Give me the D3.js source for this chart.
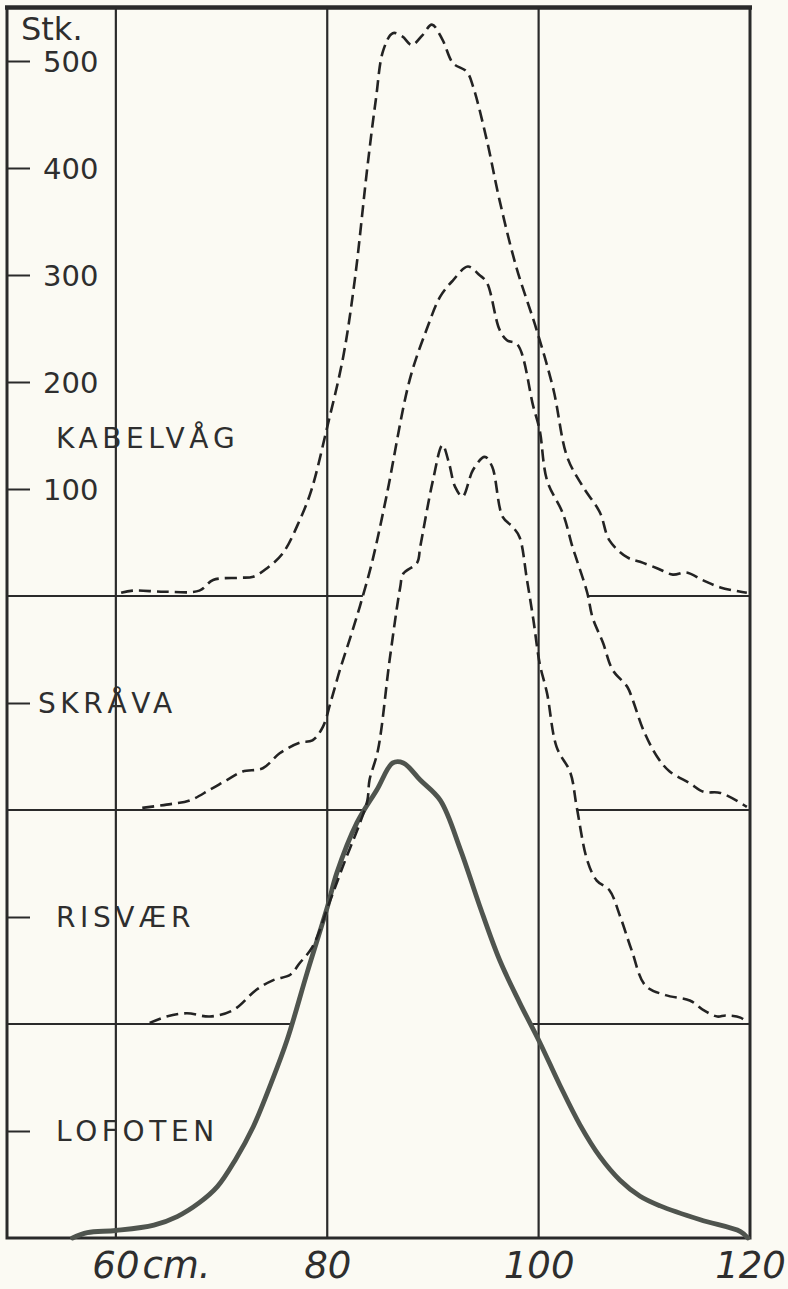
<!DOCTYPE html>
<html>
<head>
<meta charset="utf-8">
<script src="https://cdn.jsdelivr.net/npm/d3@7/dist/d3.min.js"></script>
<style>
  body { margin: 0; background: #fbfaf3; }
  svg { display: block; }
  text { font-family: "DejaVu Sans", sans-serif; fill: #2e2e2e; }
</style>
</head>
<body>
<svg id="chart" width="788" height="1289"></svg>
<script>
// lengths (cm) and counts (Stk.)
const kabelvagLen = [60.5, 61.6, 64.6, 67.9, 69.2, 71.7, 73.0, 74.3, 75.8, 77.4, 78.5, 80.0, 81.5, 82.6, 83.8, 84.6, 85.3, 86.2, 87.1, 88.0, 89.0, 89.9, 90.9, 91.9, 93.2, 93.8, 95.1, 96.3, 97.9, 99.8, 101.4, 102.7, 104.2, 105.8, 106.7, 108.4, 109.6, 111.2, 112.7, 114.0, 115.5, 117.2, 119.7];
const kabelvagN   = [3, 5, 4, 5, 15, 17, 18, 26, 40, 71, 99, 158, 223, 295, 401, 464, 510, 526, 523, 515, 524, 534, 520, 498, 490, 476, 426, 370, 307, 249, 193, 130, 102, 78, 52, 36, 32, 26, 20, 22, 15, 8, 3];

const skravaLen = [62.5, 64.8, 67.0, 68.9, 70.5, 72.0, 73.9, 75.5, 77.4, 78.6, 79.6, 80.3, 81.2, 82.4, 83.4, 84.3, 85.6, 87.8, 89.4, 90.7, 91.9, 93.3, 94.4, 95.1, 96.3, 97.0, 98.0, 99.5, 100.1, 100.8, 102.3, 103.2, 103.6, 104.6, 105.1, 106.1, 107.0, 108.4, 108.9, 109.9, 111.2, 112.4, 114.3, 115.6, 117.2, 119.7];
const skravaN   = [2, 5, 9, 19, 28, 36, 39, 53, 63, 65, 78, 100, 131, 168, 201, 234, 293, 402, 449, 480, 495, 508, 500, 493, 449, 439, 435, 377, 355, 308, 277, 246, 234, 203, 180, 156, 131, 115, 103, 75, 50, 36, 25, 17, 16, 3];

const risvaerLen = [63.2, 64.8, 66.7, 68.9, 71.1, 73.3, 74.9, 76.5, 77.4, 78.6, 80.3, 81.7, 83.1, 83.8, 84.0, 84.8, 85.9, 86.9, 87.2, 88.5, 88.8, 90.0, 90.9, 91.5, 92.1, 92.8, 93.8, 94.9, 95.6, 96.6, 97.6, 98.2, 98.9, 99.5, 100.1, 100.8, 101.7, 103.0, 103.6, 104.6, 105.5, 106.7, 107.7, 108.8, 110.1, 112.0, 114.3, 115.6, 116.9, 117.7, 119.1, 119.8];
const risvaerN   = [1, 7, 10, 7, 13, 32, 41, 46, 57, 72, 116, 153, 188, 209, 228, 256, 340, 408, 421, 431, 446, 508, 541, 525, 502, 493, 518, 530, 521, 474, 464, 455, 415, 378, 337, 309, 259, 235, 203, 153, 134, 125, 101, 69, 36, 27, 22, 13, 7, 8, 6, 1];

const lofotenLen = [55.9, 57.3, 60.0, 63.6, 65.8, 67.9, 69.6, 71.3, 73.0, 74.7, 76.2, 78.1, 80.0, 80.9, 82.8, 84.7, 86.2, 87.2, 88.8, 90.7, 92.6, 94.4, 96.3, 98.2, 100.1, 102.0, 103.9, 105.8, 107.7, 109.6, 111.5, 115.3, 119.1, 119.8];
const lofotenN   = [0, 5, 7, 12, 20, 33, 48, 73, 104, 145, 185, 248, 309, 341, 388, 419, 444, 444, 428, 409, 363, 311, 260, 220, 183, 143, 106, 76, 54, 39, 30, 17, 6, 0];

// bottom to top
const stationNames = ['LOFOTEN', 'RISVÆR', 'SKRÅVA', 'KABELVÅG'];
const countTicks = [100, 200, 300, 400, 500];
const lengthTicks = [60, 80, 100, 120];
const gridLengths = [60, 80, 100];

const step = 200;  // each station is lifted 200 Stk. above the one below

const series = [
  {name: stationNames[0], len: lofotenLen, n: lofotenN, solid: true},
  {name: stationNames[1], len: risvaerLen, n: risvaerN},
  {name: stationNames[2], len: skravaLen, n: skravaN},
  {name: stationNames[3], len: kabelvagLen, n: kabelvagN}
];
series.forEach((s, i) => {
  s.base = i * step;
  s.points = s.len.map((l, j) => ({len: l, n: s.n[j]}));
});

const svg = d3.select('#chart');

const x = d3.scaleLinear().domain([49.7, 120]).range([7, 750]);
const y = d3.scaleLinear().domain([0, 1150]).range([1238, 7.5]);

// where the station below climbs over a baseline, the baseline is left out
function openSpans(pts, level){
  let spans = [], start = x.domain()[0];
  for(let i = 1; i < pts.length; i++){
    let a = pts[i-1], b = pts[i];
    if((a.n < level) !== (b.n < level)){
      let c = a.len + (level - a.n) / (b.n - a.n) * (b.len - a.len);
      if(a.n < level){ spans.push([start, c]); }
      else { start = c; }
    }
  }
  spans.push([start, x.domain()[1]]);
  return spans;
}

const grid = svg.append('g').attr('stroke', '#2a2a2a').attr('fill', 'none');

series.slice(1).forEach((s, i) => {
  let below = series[i];
  openSpans(below.points, step).forEach(sp => {
    grid.append('line')
      .attr('x1', x(sp[0])).attr('x2', x(sp[1]))
      .attr('y1', y(s.base)).attr('y2', y(s.base))
      .attr('stroke-width', 1.8);
  });
});

grid.selectAll('.vline')
  .data(gridLengths)
  .enter().append('line')
    .attr('class', 'vline')
    .attr('x1', d => x(d)).attr('x2', d => x(d))
    .attr('y1', y(1150)).attr('y2', y(0))
    .attr('stroke-width', 2.2);

// frame
grid.append('rect')
  .attr('x', x(49.7)).attr('y', y(1150))
  .attr('width', x(120) - x(49.7)).attr('height', y(0) - y(1150))
  .attr('stroke-width', 3);
grid.append('line')
  .attr('x1', x(49.7) - 2).attr('x2', x(120) + 2)
  .attr('y1', y(1150)).attr('y2', y(1150))
  .attr('stroke-width', 4.5);

// curves
series.forEach(s => {
  let gen = d3.line()
    .x(d => x(d.len))
    .y(d => y(d.n + s.base))
    .curve(d3.curveCatmullRom.alpha(0.5));
  svg.append('path')
    .attr('d', gen(s.points))
    .attr('fill', 'none')
    .attr('stroke', s.solid ? '#4f544e' : '#232323')
    .attr('stroke-width', s.solid ? 4.8 : 2.6)
    .attr('stroke-linejoin', 'round')
    .attr('stroke-linecap', s.solid ? 'round' : 'butt')
    .attr('stroke-dasharray', s.solid ? null : '12,6');
});

// count axis on the top station, ticks drawn inward
const topStation = series[3];
const countAxis = svg.append('g')
  .attr('transform', `translate(${x(49.7)},0)`)
  .call(d3.axisRight(y)
    .tickValues(countTicks.map(v => v + topStation.base))
    .tickSize(23)
    .tickPadding(13)
    .tickFormat(v => v - topStation.base));
countAxis.select('.domain').remove();
countAxis.selectAll('line').attr('stroke', '#2a2a2a').attr('stroke-width', 2);
countAxis.selectAll('text')
  .attr('font-size', 29)
  .attr('font-family', '"DejaVu Sans", sans-serif')
  .attr('fill', '#2e2e2e')
  .attr('dy', '0.36em');

// station ticks, one at 100 above each lower baseline
const stationTicks = svg.append('g')
  .attr('transform', `translate(${x(49.7)},0)`)
  .call(d3.axisRight(y)
    .tickValues(series.slice(0, 3).map(s => s.base + 100))
    .tickSize(23)
    .tickFormat(''));
stationTicks.select('.domain').remove();
stationTicks.selectAll('line').attr('stroke', '#2a2a2a').attr('stroke-width', 2);

svg.append('g').selectAll('text')
  .data(series)
  .enter().append('text')
    .attr('x', d => d.name === 'SKRÅVA' ? 38 : 56)
    .attr('y', d => y(d.base + (d === topStation ? 148 : 100)))
    .attr('dy', '0.36em')
    .attr('font-size', 28)
    .attr('letter-spacing', 4.6)
    .text(d => d.name);

// Stk. label
svg.append('text')
  .attr('x', 21).attr('y', 40)
  .attr('font-size', 32)
  .text('Stk.');

// length axis
const lengthAxis = svg.append('g')
  .attr('transform', `translate(0,${y(0)})`)
  .call(d3.axisBottom(x)
    .tickValues(lengthTicks)
    .tickSize(0)
    .tickPadding(14)
    .tickFormat(d => d));
lengthAxis.select('.domain').remove();
lengthAxis.selectAll('text')
  .attr('font-size', 37)
  .attr('font-style', 'italic')
  .attr('font-family', '"DejaVu Sans", sans-serif')
  .attr('fill', '#2e2e2e');

lengthAxis.selectAll('text')
  .filter(d => d === 60)
  .attr('text-anchor', 'start')
  .attr('x', -24)
  .text(null)
  .call(t => {
    t.append('tspan').text('60');
    t.append('tspan').attr('dx', 3).text('cm.');
  });
</script>
</body>
</html>
